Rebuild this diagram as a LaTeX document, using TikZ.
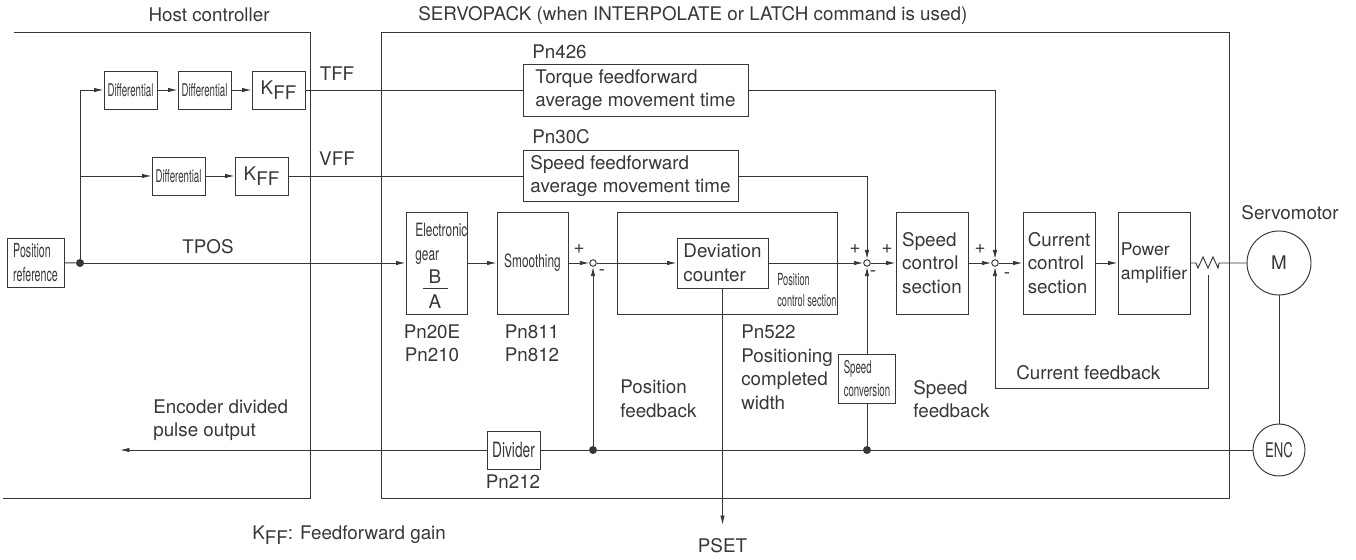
\documentclass[tikz,border=0pt]{standalone}
\usepackage{fontspec}
\setmainfont{TeX Gyre Heros}
\newfontfamily\narrowfont[FakeStretch=0.65]{TeX Gyre Heros}
\newfontfamily\narrowerfont[FakeStretch=0.55]{TeX Gyre Heros}
\usetikzlibrary{arrows.meta}
\definecolor{lineGray}{RGB}{55,55,55}
\newcommand{\kff}{K\raisebox{-2.5pt}{FF}}

\tikzset{
  blk/.style 2 args={draw, inner sep=0pt, minimum width={#1*0.02cm}, minimum height={#2*0.02cm}},
  nar/.style={font=\narrowfont\fontsize{10.4}{13.6}\selectfont},
  narS/.style={font=\narrowerfont\fontsize{10}{13}\selectfont},
  narT/.style={font=\narrowerfont\fontsize{9.5}{12}\selectfont},
  dot/.style={circle, fill, inner sep=0pt, minimum size=0.16cm},
  sumpt/.style={circle, draw, fill=white, inner sep=0pt, minimum size=0.13cm},
  sign/.style={inner sep=0pt}
}

\begin{document}
\begin{tikzpicture}[x=0.02cm, y=-0.02cm, line width=0.55pt, color=lineGray,
    font=\fontsize{10.7}{13.4}\selectfont, >={Latex[length=1.9mm,width=0.9mm]}]
  \useasboundingbox (0,0) rectangle (1356,560);

  % frames
  \draw (14,32) -| (310,498) -- (3,498);
  \draw (381,32) rectangle (1229,498);
  \node (hostlbl) at (209,15) {Host controller};
  \node[anchor=west] (svlbl) at (412,15) {SERVOPACK (when INTERPOLATE or LATCH command is used)};

  % host controller
  \node[blk={57}{49}, narS, font=\narrowerfont\fontsize{11}{13.6}\selectfont, align=left] (posref) at (35.5,262.5) {Position\\reference};
  \node[dot] (split) at (80,263) {};
  \coordinate (tapT) at (80,90);
  \coordinate (tapV) at (80,176);
  \node[blk={53}{38}, narS] (diff1) at (130.5,90) {Differential};
  \node[blk={53}{38}, narS] (diff2) at (204.5,90) {Differential};
  \node[blk={53}{38}] (kff1) at (278.5,90) {\kff};
  \node[blk={53}{38}, narS] (diff3) at (178.5,176) {Differential};
  \node[blk={53}{38}] (kff2) at (261.5,176) {\kff};
  \node (tfflbl) at (337,74) {TFF};
  \node (vfflbl) at (337,159) {VFF};
  \node (tposlbl) at (208,247) {TPOS};

  % feedforward boxes
  \node[anchor=west] (pn426) at (526,52) {Pn426};
  \node[blk={225}{52}, align=left] (tffbox) at (635.5,90) {Torque feedforward\\average movement time};
  \node[anchor=west] (pn30c) at (526,137) {Pn30C};
  \node[blk={215}{51}, align=left] (vffbox) at (630.5,176) {Speed feedforward\\average movement time};
  \coordinate (tffcorner) at (995,90);
  \coordinate (vffcorner) at (867,176);

  % main path
  \node[blk={61}{102}] (gear) at (436.5,263) {};
  \node[nar, anchor=west, align=left] (geartxt) at (409,244) {Electronic\\gear};
  \node (gearB) at (435,277) {B};
  \node (gearA) at (435,302) {A};
  \draw (423,288) -- (448,288);
  \node[blk={71}{102}, nar] (smooth) at (532.5,263) {Smoothing};
  \node[sumpt] (sum1) at (593,263) {};
  \node[blk={220}{102}] (pcs) at (727,263) {};
  \node[blk={91}{50}, align=left, fill=white] (devcnt) at (722.5,263) {Deviation\\counter};
  \node[narT, anchor=west, align=left] (pcslbl) at (771,290.5) {Position\\control section};
  \node[sumpt] (sum2) at (867,263) {};
  \node[blk={72}{102}, align=left] (spdctl) at (932,263) {Speed\\control\\section};
  \node[sumpt] (sum3) at (995,263) {};
  \node[blk={72}{102}, align=left] (curctl) at (1059,263) {Current\\control\\section};
  \node[blk={72}{102}, align=left, font=\fontsize{10}{13.4}\selectfont] (pwramp) at (1154,263) {Power\\amplifier};

  % servomotor
  \node (servolbl) at (1290,213) {Servomotor};
  \node[circle, draw, minimum size={64*0.02cm}, inner sep=0pt] (motor) at (1279,263) {M};
  \node[circle, draw, minimum size={52*0.02cm}, inner sep=0pt, font=\narrowfont\fontsize{11.5}{12}\selectfont] (enc) at (1279,450) {ENC};
  \coordinate (zzA) at (1196,263);

  % feedback
  \node[dot] (spdtap) at (867,450) {};
  \node[dot] (postap) at (593,450) {};
  \node[blk={53}{38}, font=\narrowfont\fontsize{12}{13}\selectfont] (divider) at (513.5,450) {Divider};
  \node[blk={57}{49}, narS, align=left] (spdconv) at (867,378.5) {Speed\\conversion};
  \coordinate (encout) at (120,450);
  \coordinate (cfA) at (1208,275);
  \coordinate (cfB) at (1208,388);
  \coordinate (cfC) at (995,388);
  \coordinate (psetend) at (722.5,525);

  % connectors
  \draw (posref) -- (split);
  \draw[->] (split) -- (gear);
  \draw (split) -- (tapT);
  \draw[->] (tapT) -- (diff1);
  \draw[->] (tapV) -- (diff3);
  \draw[->] (diff1) -- (diff2);
  \draw[->] (diff2) -- (kff1);
  \draw[->] (diff3) -- (kff2);
  \draw (kff1) -- (tffbox);
  \draw (kff2) -- (vffbox);
  \draw[->] (tffbox) -- (tffcorner) -- (sum3);
  \draw[->] (vffbox) -- (vffcorner) -- (sum2);
  \draw[->] (gear) -- (smooth);
  \draw[->] (smooth) -- (sum1);
  \draw[->] (sum1) -- (devcnt);
  \draw[->] (devcnt) -- (sum2);
  \draw[->] (sum2) -- (spdctl);
  \draw[->] (spdctl) -- (sum3);
  \draw[->] (sum3) -- (curctl);
  \draw[->] (curctl) -- (pwramp);
  \draw (pwramp) -- (zzA) -- ++(2,5) -- ++(5,-11) -- ++(5,11) -- ++(5,-11) -- ++(5,11) -- ++(1,-5) -- (motor);
  \draw (motor) -- (enc);
  \draw (enc) -- (spdtap) -- (postap) -- (divider);
  \draw[->] (divider) -- (encout);
  \draw[->] (postap) -- (sum1);
  \draw (spdtap) -- (spdconv);
  \draw[->] (spdconv) -- (sum2);
  \draw[->] (cfA) -- (cfB) -- (cfC) -- (sum3);
  \draw[->] (devcnt) -- (psetend);

  % signs
  \node[sign] (s1plus) at (579,249) {+};
  \node[sign] (s1minus) at (602,273) {-};
  \node[sign] (s2plusA) at (855,249) {+};
  \node[sign] (s2plusB) at (887,249) {+};
  \node[sign] (s2minus) at (873,274) {-};
  \node[sign] (s3plus) at (980,249) {+};
  \node[sign] (s3minus) at (1007,276) {-};

  % labels
  \node[align=center] (pngear) at (432,343.5) {Pn20E\\Pn210};
  \node[align=center] (pnsmooth) at (532,343.5) {Pn811\\Pn812};
  \node[anchor=west, align=left] (pn522) at (735,367.5) {Pn522\\Positioning\\completed\\width};
  \node[anchor=west, align=left] (posfblbl) at (614,399) {Position\\feedback};
  \node[anchor=west, align=left] (spdfblbl) at (907,399) {Speed\\feedback};
  \node[anchor=west] (cflbl) at (1010,373) {Current feedback};
  \node[anchor=west, align=left] (encdivlbl) at (147,420) {Encoder divided\\pulse output};
  \node (pn212) at (513,482) {Pn212};
  \node (psetlbl) at (722.5,546) {PSET};
  \node[anchor=west] (kfflbl) at (246,535) {\kff: Feedforward gain};
\end{tikzpicture}
\end{document}
